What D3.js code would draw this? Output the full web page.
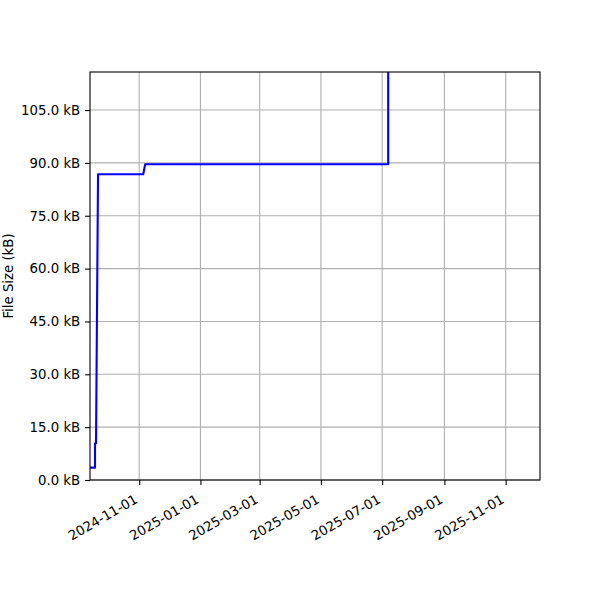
<!DOCTYPE html>
<html>
<head>
<meta charset="utf-8">
<script src="https://cdn.jsdelivr.net/npm/d3@7"></script>
<style>
    body { margin: 0; background: #fff; }
    svg { font-family: "DejaVu Sans", sans-serif; }
    .grid line { stroke: #b0b0b0; stroke-width: 1.1; }
    .axis text { font-size: 13.3px; fill: #000; font-family: "DejaVu Sans", sans-serif; }
    .axis line, .axis path { stroke: #000; stroke-width: 1.1; }
</style>
</head>
<body>
<svg id="chart" width="600" height="600"></svg>
<script>
// file size history
const dates = ['2024-09-13', '2024-09-18', '2024-09-18', '2024-09-19', '2024-09-21',
               '2024-11-05', '2024-11-07', '2025-07-07', '2025-07-07'];
const sizes = [3.5, 3.5, 10.4, 10.4, 86.8, 86.8, 89.6, 89.6, 140];

const xTicks = ['2024-11-01', '2025-01-01', '2025-03-01', '2025-05-01',
                '2025-07-01', '2025-09-01', '2025-11-01'];
const yTicks = [0, 15, 30, 45, 60, 75, 90, 105];

const xRange = ['2024-09-13', '2025-12-05T05:00'];
const yMax = 115.8;

const margin = { top: 72, right: 60, bottom: 120, left: 90 };
const width = 600 - margin.left - margin.right;
const height = 600 - margin.top - margin.bottom;

const parse = s => new Date(s.length > 10 ? s + 'Z' : s + 'T00:00Z');
const data = dates.map((d, i) => ({ date: parse(d), size: sizes[i] }));

const svg = d3.select('#chart');
const chart = svg.append('g')
    .attr('transform', `translate(${margin.left},${margin.top})`);

const xScale = d3.scaleUtc()
    .domain(xRange.map(parse))
    .range([0, width]);
const yScale = d3.scaleLinear()
    .domain([0, yMax])
    .range([height, 0]);

// grid lines
chart.append('g').attr('class', 'grid')
    .selectAll('line')
    .data(xTicks.map(parse))
    .join('line')
        .attr('x1', d => xScale(d)).attr('x2', d => xScale(d))
        .attr('y1', 0).attr('y2', height);
chart.append('g').attr('class', 'grid')
    .selectAll('line')
    .data(yTicks)
    .join('line')
        .attr('x1', 0).attr('x2', width)
        .attr('y1', d => yScale(d)).attr('y2', d => yScale(d));

chart.append('clipPath').attr('id', 'clip')
    .append('rect').attr('width', width).attr('height', height);

const line = d3.line()
    .x(d => xScale(d.date))
    .y(d => yScale(d.size));

chart.append('path')
    .datum(data)
    .attr('clip-path', 'url(#clip)')
    .attr('fill', 'none')
    .attr('stroke', '#0000ff')
    .attr('stroke-width', 2.1)
    .attr('stroke-linejoin', 'round')
    .attr('d', line);

// axes
const xAxis = d3.axisBottom(xScale)
    .tickValues(xTicks.map(parse))
    .tickFormat(d3.utcFormat('%Y-%m-%d'))
    .tickSize(4.9).tickSizeOuter(0);
const yAxis = d3.axisLeft(yScale)
    .tickValues(yTicks)
    .tickFormat(d => d.toFixed(1) + ' kB')
    .tickSize(4.9).tickSizeOuter(0).tickPadding(4.9);

const xAxisGroup = chart.append('g')
    .attr('class', 'axis x-axis')
    .attr('transform', `translate(0,${height})`)
    .call(xAxis);
xAxisGroup.select('.domain').remove();
xAxisGroup.selectAll('text')
    .style('text-anchor', 'end')
    .attr('x', 0).attr('y', 0).attr('dy', 0)
    .attr('transform', 'translate(-1,22) rotate(-30)');

const yAxisGroup = chart.append('g')
    .attr('class', 'axis y-axis')
    .call(yAxis);
yAxisGroup.select('.domain').remove();

// frame
chart.append('rect')
    .attr('width', width).attr('height', height)
    .attr('fill', 'none').attr('stroke', '#000').attr('stroke-width', 1.1);

svg.append('text')
    .attr('text-anchor', 'middle')
    .attr('transform', `translate(13,${margin.top + height / 2}) rotate(-90)`)
    .style('font-size', '13.3px')
    .text('File Size (kB)');
</script>
</body>
</html>
